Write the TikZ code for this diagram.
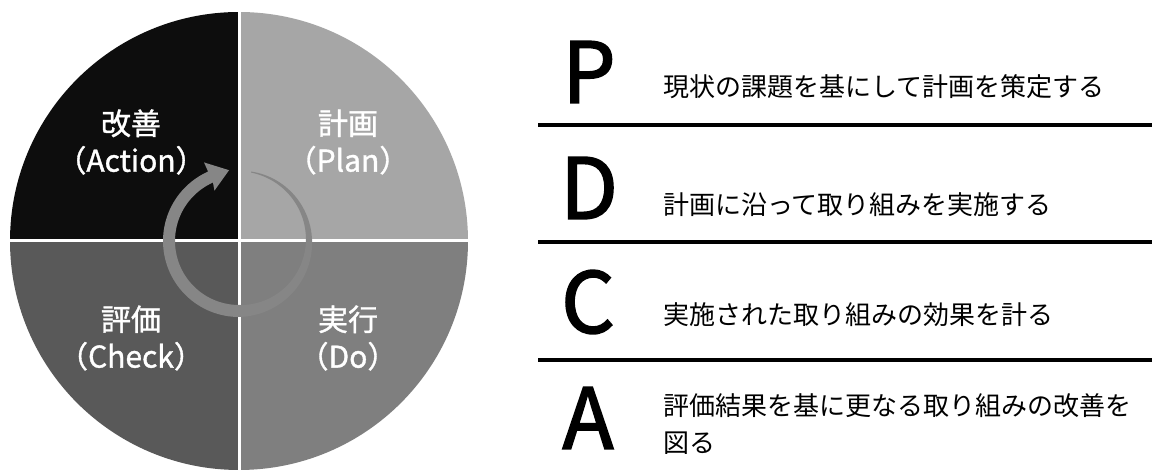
\documentclass[tikz,border=0pt]{standalone}
\usepackage{fontspec}
\setmainfont{Noto Sans CJK JP}
\newfontfamily\midfont{Noto Sans CJK JP}[FakeBold=1.2]
\newfontfamily\letterfont{Noto Sans CJK JP}[FakeBold=2]
\usetikzlibrary{positioning}
\definecolor{actfill}{HTML}{0D0D0D}
\definecolor{planfill}{HTML}{A6A6A6}
\definecolor{dofill}{HTML}{7F7F7F}
\definecolor{chkfill}{HTML}{595959}
\definecolor{ringgray}{HTML}{868686}

\begin{document}
\begin{tikzpicture}[x=1pt, y=1pt,
  quad/.style={text=white, align=center, inner sep=0pt, font=\midfont\fontsize{30}{37}\selectfont},
  letter/.style={inner sep=0pt, font=\letterfont\fontsize{84}{84}\selectfont},
  desc/.style={anchor=west, align=left, inner sep=0pt, font=\fontsize{26}{37}\selectfont},
  sep/.style={white, line width=3pt},
  rule/.style={black, line width=4pt}]
\useasboundingbox (0,0) rectangle (1152,473);
\fill[white] (0,0) rectangle (1152,473);
\coordinate (o) at (239,232);
% the four quarters
\fill[actfill] (o) -- ++(180:229pt) arc[start angle=180, end angle=90, radius=229pt] -- cycle;
\fill[planfill] (o) -- ++(90:229pt) arc[start angle=90, end angle=0, radius=229pt] -- cycle;
\fill[dofill] (o) -- ++(0:229pt) arc[start angle=0, end angle=-90, radius=229pt] -- cycle;
\fill[chkfill] (o) -- ++(-90:229pt) arc[start angle=-90, end angle=-180, radius=229pt] -- cycle;
\draw[sep] (o) ++(-230,0) -- ++(460,0);
\draw[sep] (o) ++(0,-230) -- ++(0,460);
% cycle arrow, thin at its start
\begin{scope}[shift={(o)}]
\fill[ringgray] plot[domain=80:-246, samples=120] (\x:{70+0.5*min(12,1+11*(80-\x)/170)})
  -- (-246:86) -- (-262:71.5) -- (-244:56)
  -- plot[domain=-246:80, samples=120] (\x:{70-0.5*min(12,1+11*(80-\x)/170)}) -- cycle;
\end{scope}
\node[quad] (act) at (131,331) {改善\\（Action）};
\node[quad] (plan) at (348,331) {計画\\（Plan）};
\node[quad] (chk) at (131,135) {評価\\（Check）};
\node[quad] (do) at (348,135) {実行\\（Do）};
% the four steps
\node[letter] (p) at (589,401) {P};
\node[letter] (d) at (589,285) {D};
\node[letter] (c) at (588,171) {C};
\node[letter] (a) at (588,55) {A};
\node[desc] (pdesc) at (663,386) {現状の課題を基にして計画を策定する};
\node[desc] (ddesc) at (663,268) {計画に沿って取り組みを実施する};
\node[desc] (cdesc) at (663,158) {実施された取り組みの効果を計る};
\node[desc] (adesc) at (663,49) {評価結果を基に更なる取り組みの改善を\\図る};
\foreach \y in {348,231,113}
  \draw[rule] (538,\y) -- (1152,\y);
\end{tikzpicture}
\end{document}
